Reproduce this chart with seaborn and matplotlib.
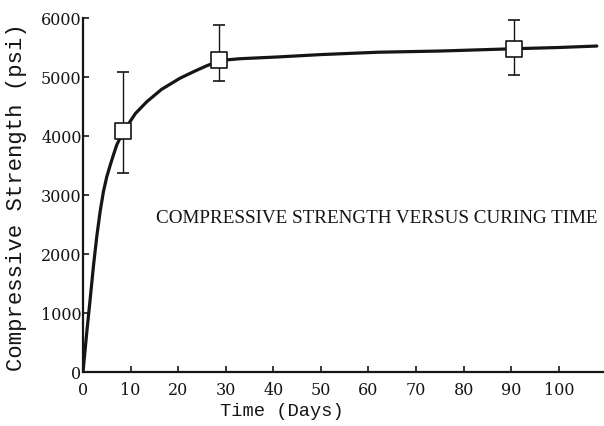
import matplotlib
matplotlib.use("Agg")
import matplotlib.pyplot as plt
import seaborn as sns
import pandas as pd

# Fitted curve
curve_days = [0, 0.4, 0.8, 1.5, 2.2, 2.9, 3.6, 4.3, 5.0, 5.7, 6.4, 7.1, 8.0, 9.2, 11.0, 13.4, 16.5, 20.4, 23.5, 26.0, 28.8, 33.0, 41.0, 50.0, 62.0, 75.0, 91.0, 100.0, 108.0]
curve_psi = [0, 340, 680, 1230, 1800, 2300, 2720, 3060, 3310, 3500, 3680, 3850, 4000, 4160, 4380, 4580, 4790, 4980, 5100, 5190, 5280, 5310, 5340, 5380, 5420, 5440, 5480, 5500, 5525]

# Measured points with error bars
point_days = [8.5, 28.5, 90.5]
point_psi = [4080, 5280, 5480]
err_low = [3370, 4930, 5030]
err_high = [5080, 5880, 5960]

x_ticks = [0, 10, 20, 30, 40, 50, 60, 70, 80, 90, 100]
y_ticks = [0, 1000, 2000, 3000, 4000, 5000, 6000]

title_text = "COMPRESSIVE STRENGTH VERSUS CURING TIME"
x_label = "Time (Days)"
y_label = "Compressive Strength (psi)"

ink = "#151515"

sns.set_theme(style="ticks")
plt.rcParams["font.family"] = ["DejaVu Serif"]

fig = plt.figure(figsize=(6.04, 4.27), dpi=100)
ax = fig.add_axes([83 / 604, 1 - 373 / 427, 1 - 83 / 604, (373 - 19) / 427])

curve_df = pd.DataFrame({"days": curve_days, "psi": curve_psi})
sns.lineplot(data=curve_df, x="days", y="psi", ax=ax, color=ink, linewidth=2.3, zorder=3)

yerr = [[p - lo for p, lo in zip(point_psi, err_low)], [hi - p for p, hi in zip(point_psi, err_high)]]
ax.errorbar(point_days, point_psi, yerr=yerr, fmt="none", ecolor=ink, elinewidth=1.0,
            capsize=4, capthick=1.2, zorder=2)
pts_df = pd.DataFrame({"days": point_days, "psi": point_psi})
sns.scatterplot(data=pts_df, x="days", y="psi", ax=ax, marker="s", s=120,
                facecolor="white", edgecolor=ink, linewidth=1.2, zorder=4)

ax.set_xlim(0, 109.5)
ax.set_ylim(0, 6000)
ax.set_xticks(x_ticks)
ax.set_yticks(y_ticks)
ax.set_xticklabels([str(t) for t in x_ticks])
ax.set_yticklabels([str(t) for t in y_ticks])
ax.tick_params(axis="both", direction="in", length=4, width=1.2, colors=ink, labelsize=11.5)
ax.tick_params(axis="y", pad=1)
ax.tick_params(axis="x", pad=6.5)

for side in ["top", "right"]:
    ax.spines[side].set_visible(False)
for side in ["left", "bottom"]:
    ax.spines[side].set_linewidth(1.6)
    ax.spines[side].set_color(ink)

ax.set_xlabel(x_label, family="Liberation Mono", fontsize=13.5, color=ink)
ax.set_ylabel(y_label, family="Liberation Mono", fontsize=16, color=ink)
ax.xaxis.set_label_coords((282 - 83) / 521, (373 - 412) / 354)
ax.yaxis.set_label_coords((17 - 83) / 521, (373 - 197) / 354)
ax.xaxis.label.set_va("center")
ax.yaxis.label.set_va("center")

ax.text(15.3, 2620, title_text, family="Liberation Serif", fontsize=13.8, color=ink,
        ha="left", va="center", clip_on=False)

fig.savefig("out.png", dpi=100)
